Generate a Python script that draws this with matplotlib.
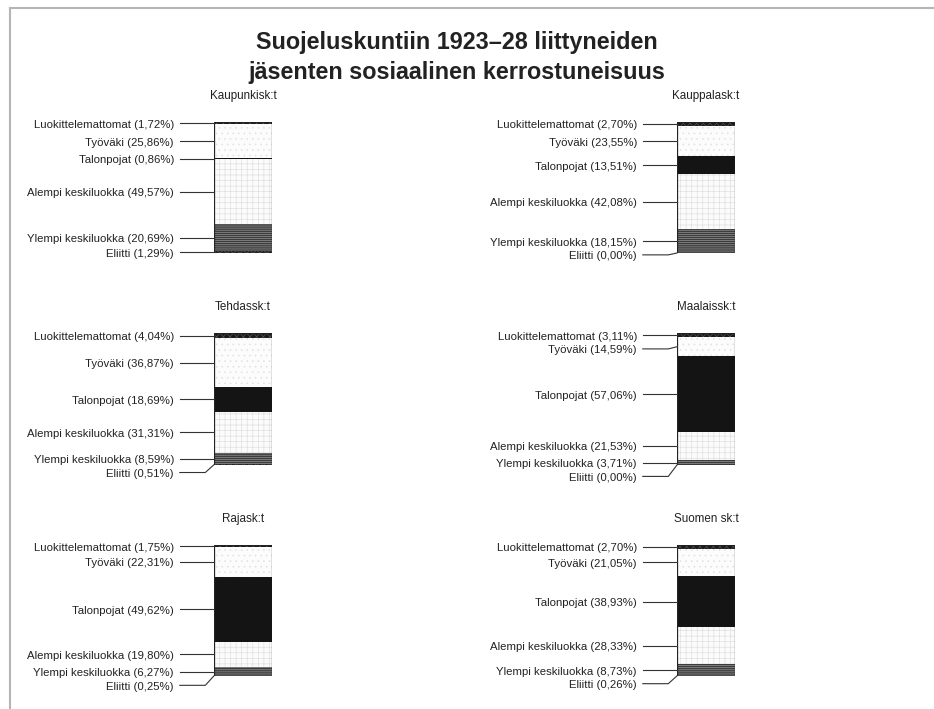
import matplotlib
matplotlib.use('Agg')
import matplotlib.pyplot as plt
from matplotlib.lines import Line2D

plt.rcParams['font.family'] = ['Liberation Sans', 'DejaVu Sans']
plt.rcParams['hatch.linewidth'] = 0.45

# Data (percentages, top segment first)
categories = ['Luokittelemattomat', 'Työväki', 'Talonpojat',
              'Alempi keskiluokka', 'Ylempi keskiluokka', 'Eliitti']

kaupunki = [1.72, 25.86, 0.86, 49.57, 20.69, 1.29]
kauppala = [2.70, 23.55, 13.51, 42.08, 18.15, 0.00]
tehdas = [4.04, 36.87, 18.69, 31.31, 8.59, 0.51]
maalais = [3.11, 14.59, 57.06, 21.53, 3.71, 0.00]
raja = [1.75, 22.31, 49.62, 19.80, 6.27, 0.25]
suomi = [2.70, 21.05, 38.93, 28.33, 8.73, 0.26]

panel_titles = ['Kaupunkisk:t', 'Kauppalask:t', 'Tehdassk:t',
                'Maalaissk:t', 'Rajask:t', 'Suomen sk:t']
panel_values = [kaupunki, kauppala, tehdas, maalais, raja, suomi]

# segment styles: face colour, hatch, hatch colour
styles = [
    ('#1a1a1a', 'xxxxx', '#555555'),
    ('#fcfcfc', '...', '#e2e2e2'),
    ('#141414', '', '#141414'),
    ('#fbfbfb', '+++', '#dedede'),
    ('#3c3c3c', '--------', '#a0a0a0'),
    ('#222222', 'xxxxx', '#606060'),
]

W, H = 934, 709
bar_x = [214, 677]
bar_rows = [(122, 253), (333, 465), (545, 676)]


def fmt(v):
    return f'{v:.2f}'.replace('.', ',')


fig = plt.figure(figsize=(W / 100, H / 100), dpi=100)

for i, (title, vals) in enumerate(zip(panel_titles, panel_values)):
    col, row = i % 2, i // 2
    top, bot = bar_rows[row]
    ax = fig.add_axes([bar_x[col] / W, 1 - bot / H, 58 / W, (bot - top) / H])
    total = sum(vals)

    bottom = 0
    mids = []
    for v, (fc, hatch, hc) in zip(vals, styles):
        ax.bar(0.5, v, width=1, bottom=bottom, color=fc, hatch=hatch,
               edgecolor=hc, linewidth=0)
        mids.append(bottom + v / 2)
        bottom += v
    ax.bar(0.5, total, width=1, bottom=0, fill=False, edgecolor='#222222',
           linewidth=0.9)
    ax.set_xlim(0, 1)
    ax.set_ylim(total, 0)
    ax.axis('off')

    # spread labels so they don't overlap
    ys = []
    for m in mids:
        ys.append(m if not ys else max(m, ys[-1] + 10.5))

    for name, v, m, y in zip(categories, vals, mids, ys):
        ax.text(-0.69, y + 1.2, f'{name} ({fmt(v)}%)', ha='right', va='center',
                fontsize=8.2, color='#222222', clip_on=False)
        ax.plot([-0.59, -0.15, 0], [y, y, m], color='#333333', lw=0.8,
                clip_on=False)

    ax.text(0.5, 1 + 26 / (bot - top), title, transform=ax.transAxes,
            ha='center', va='center', fontsize=8.4, color='#222222')

fig.text(457 / W, 1 - 43 / H, 'Suojeluskuntiin 1923–28 liittyneiden',
         ha='center', va='center', fontsize=16.8, fontweight='bold', color='#222222')
fig.text(457 / W, 1 - 72 / H, 'jäsenten sosiaalinen kerrostuneisuus',
         ha='center', va='center', fontsize=16.8, fontweight='bold', color='#222222')

# frame lines at top and left
fig.add_artist(Line2D([10 / W, 1], [1 - 8 / H, 1 - 8 / H], color='#b5b5b5', lw=1.5))
fig.add_artist(Line2D([10 / W, 10 / W], [0, 1 - 8 / H], color='#b5b5b5', lw=1.5))

fig.savefig('out.png', dpi=100)
